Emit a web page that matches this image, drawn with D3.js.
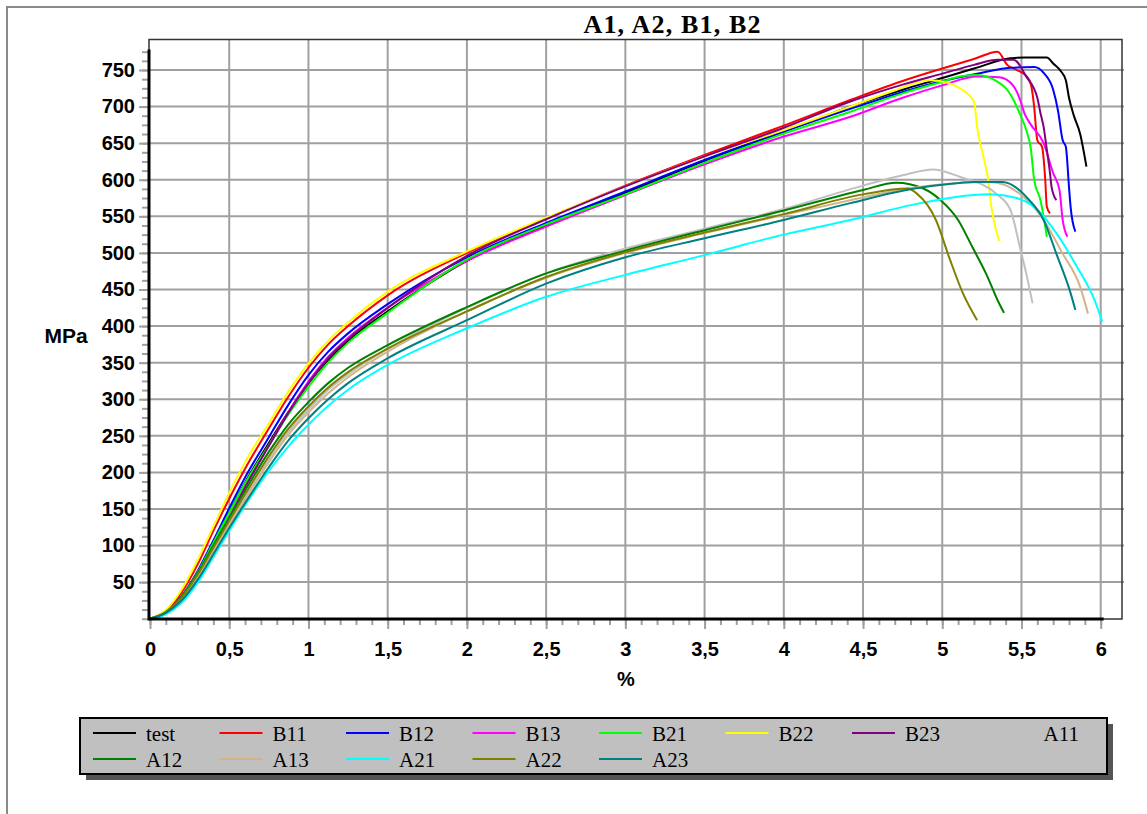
<!DOCTYPE html>
<html>
<head>
<meta charset="utf-8">
<script src="https://cdn.jsdelivr.net/npm/d3@7"></script>
<style>
  body { margin: 0; background: #fff; }
  svg { display: block; }
</style>
</head>
<body>
<div id="app"></div>
<script>
// strain (%) / stress (MPa)
const test = [[0, 0], [0.1, 9], [0.2, 30], [0.3, 63], [0.4, 104], [0.5, 146], [0.6, 186], [0.75, 240], [0.875, 283], [1, 322], [1.125, 354], [1.25, 380], [1.5, 420], [2, 489], [2.5, 538], [3, 582], [3.5, 626], [4, 666], [4.42, 700], [4.75, 723], [5, 739], [5.2, 752], [5.43, 766], [5.52, 767], [5.66, 767], [5.7, 759], [5.75, 748], [5.78, 736], [5.8, 712], [5.83, 688], [5.87, 663], [5.91, 618]];
const b11 = [[0, 0], [0.1, 11], [0.2, 36], [0.3, 74], [0.4, 120], [0.5, 164], [0.6, 205], [0.75, 260], [0.875, 304], [1, 343], [1.125, 375], [1.25, 400], [1.5, 442], [2, 500], [2.5, 547], [3, 592], [3.5, 634], [4, 674], [4.42, 709], [4.75, 735], [5, 752], [5.2, 765], [5.35, 775], [5.41, 757], [5.47, 750], [5.53, 742], [5.56, 730], [5.58, 700], [5.6, 654], [5.63, 645], [5.65, 600], [5.66, 563], [5.68, 554]];
const b12 = [[0, 0], [0.1, 9], [0.2, 31], [0.3, 65], [0.4, 107], [0.5, 151], [0.6, 193], [0.75, 248], [0.875, 293], [1, 333], [1.125, 365], [1.25, 390], [1.5, 430], [2, 494], [2.5, 541], [3, 584], [3.5, 627], [4, 666], [4.42, 697], [4.75, 720], [5, 735], [5.22, 745], [5.43, 753], [5.58, 754], [5.64, 746], [5.7, 723], [5.73, 695], [5.76, 654], [5.78, 645], [5.8, 590], [5.81, 563], [5.84, 529]];
const b13 = [[0, 0], [0.1, 7], [0.2, 25], [0.3, 55], [0.4, 95], [0.5, 139], [0.6, 181], [0.75, 237], [0.875, 283], [1, 324], [1.125, 358], [1.25, 384], [1.5, 425], [2, 489], [2.5, 536], [3, 579], [3.5, 621], [4, 659], [4.42, 686], [4.75, 712], [5, 729], [5.22, 741], [5.36, 740], [5.45, 728], [5.49, 710], [5.52, 690], [5.56, 675], [5.64, 650], [5.7, 609], [5.74, 586], [5.76, 545], [5.79, 522]];
const b21 = [[0, 0], [0.1, 9], [0.2, 30], [0.3, 63], [0.4, 104], [0.5, 145], [0.6, 185], [0.75, 237], [0.875, 280], [1, 317], [1.125, 350], [1.25, 377], [1.5, 418], [2, 491], [2.5, 539], [3, 580], [3.5, 623], [4, 663], [4.42, 693], [4.75, 718], [5, 734], [5.11, 741], [5.22, 743], [5.34, 735], [5.42, 720], [5.45, 709], [5.49, 690], [5.53, 668], [5.56, 641], [5.58, 600], [5.62, 572], [5.65, 536], [5.66, 522]];
const b22 = [[0, 0], [0.1, 12], [0.2, 40], [0.3, 80], [0.4, 126], [0.5, 172], [0.6, 214], [0.75, 267], [0.875, 311], [1, 349], [1.125, 380], [1.25, 405], [1.5, 447], [2, 502], [2.5, 548], [3, 591], [3.5, 632], [4, 668], [4.42, 700], [4.7, 722], [4.92, 736], [5.03, 733], [5.11, 725], [5.2, 707], [5.22, 672], [5.26, 631], [5.29, 600], [5.31, 563], [5.34, 531], [5.36, 516]];
const b23 = [[0, 0], [0.1, 7], [0.2, 23], [0.3, 52], [0.4, 92], [0.5, 136], [0.6, 179], [0.75, 236], [0.875, 282], [1, 322], [1.125, 356], [1.25, 382], [1.5, 425], [2, 496], [2.5, 546], [3, 591], [3.5, 632], [4, 671], [4.42, 707], [4.75, 730], [5, 745], [5.2, 757], [5.35, 764], [5.45, 764], [5.53, 741], [5.6, 712], [5.62, 691], [5.64, 672], [5.66, 641], [5.68, 609], [5.69, 590], [5.72, 572]];
const a11 = [[0, 0], [0.1, 8], [0.2, 27], [0.3, 57], [0.4, 94], [0.5, 131], [0.6, 166], [0.75, 218], [0.875, 256], [1, 286], [1.125, 313], [1.25, 334], [1.5, 369], [2, 425], [2.5, 472], [3, 506], [3.5, 533], [4, 560], [4.5, 592], [4.75, 606], [4.94, 614], [5.11, 604], [5.34, 581], [5.43, 559], [5.49, 508], [5.53, 472], [5.57, 431]];
const a12 = [[0, 0], [0.1, 9], [0.2, 30], [0.3, 62], [0.4, 100], [0.5, 138], [0.6, 175], [0.75, 228], [0.875, 266], [1, 296], [1.125, 322], [1.25, 343], [1.5, 374], [2, 426], [2.5, 472], [3, 503], [3.5, 531], [4, 558], [4.5, 586], [4.71, 596], [4.88, 588], [4.99, 572], [5.1, 545], [5.19, 508], [5.28, 470], [5.35, 435], [5.39, 418]];
const a13 = [[0, 0], [0.1, 8], [0.2, 26], [0.3, 55], [0.4, 91], [0.5, 128], [0.6, 163], [0.75, 214], [0.875, 252], [1, 282], [1.125, 308], [1.25, 330], [1.5, 365], [2, 420], [2.5, 466], [3, 500], [3.5, 527], [4, 552], [4.42, 572], [4.75, 587], [5, 594], [5.3, 597], [5.51, 577], [5.64, 545], [5.76, 499], [5.87, 454], [5.92, 417]];
const a21 = [[0, 0], [0.1, 6], [0.2, 22], [0.3, 49], [0.4, 84], [0.5, 120], [0.6, 155], [0.75, 202], [0.875, 236], [1, 265], [1.125, 291], [1.25, 313], [1.5, 347], [2, 397], [2.5, 440], [3, 470], [3.5, 497], [4, 525], [4.42, 545], [4.84, 567], [5.3, 580], [5.47, 575], [5.6, 559], [5.72, 527], [5.85, 481], [5.96, 436], [6.01, 406]];
const a22 = [[0, 0], [0.1, 9], [0.2, 29], [0.3, 60], [0.4, 97], [0.5, 134], [0.6, 170], [0.75, 222], [0.875, 260], [1, 290], [1.125, 316], [1.25, 337], [1.5, 369], [2, 420], [2.5, 467], [3, 501], [3.5, 528], [4, 553], [4.5, 580], [4.78, 588], [4.84, 581], [4.96, 545], [5.05, 490], [5.13, 445], [5.22, 408]];
const a23 = [[0, 0], [0.1, 8], [0.2, 25], [0.3, 53], [0.4, 88], [0.5, 124], [0.6, 158], [0.75, 207], [0.875, 244], [1, 274], [1.125, 300], [1.25, 322], [1.5, 356], [2, 408], [2.5, 458], [3, 494], [3.5, 520], [4, 545], [4.42, 568], [4.75, 585], [5, 593], [5.2, 597], [5.38, 597], [5.55, 572], [5.64, 545], [5.72, 499], [5.81, 445], [5.84, 422]];

const seriesNames = ['test', 'B11', 'B12', 'B13', 'B21', 'B22', 'B23', 'A11', 'A12', 'A13', 'A21', 'A22', 'A23'];
const seriesData = [test, b11, b12, b13, b21, b22, b23, a11, a12, a13, a21, a22, a23];
const seriesColors = ['#000000', '#ff0000', '#0000ff', '#ff00ff', '#00ff00', '#ffff00', '#800080', '#c0c0c0', '#008000', '#d2b48c', '#00ffff', '#808000', '#008080'];

const xMajorTicks = [0, 0.5, 1, 1.5, 2, 2.5, 3, 3.5, 4, 4.5, 5, 5.5, 6];
const yMajorTicks = [50, 100, 150, 200, 250, 300, 350, 400, 450, 500, 550, 600, 650, 700, 750];
const chartTitle = 'A1, A2, B1, B2';
const xTitle = '%';
const yTitle = 'MPa';

const width = 1147;
const height = 814;
const plot = { left: 149, top: 39.5, right: 1122, bottom: 619 };
const gridColor = '#a0a0a0';
const sansFont = '"Liberation Sans", Arial, sans-serif';
const serifFont = '"Liberation Serif", "Times New Roman", serif';

const svg = d3.select('#app')
  .append('svg')
  .attr('width', width)
  .attr('height', height);

svg.append('rect')
  .attr('width', width)
  .attr('height', height)
  .attr('fill', '#fff');

// outer frame
svg.append('path')
  .attr('d', `M7,${height + 2}V7H${width + 2}`)
  .attr('fill', 'none')
  .attr('stroke', '#8a8a8a')
  .attr('stroke-width', 2);

const xScale = d3.scaleLinear().domain([0, 6]).range([150, 1100.7]);
const yScale = d3.scaleLinear().domain([0, 750]).range([618.7, 70]);

// grid
svg.append('g')
  .selectAll('line')
  .data(yMajorTicks)
  .join('line')
  .attr('x1', plot.left)
  .attr('x2', plot.right + 2)
  .attr('y1', d => yScale(d))
  .attr('y2', d => yScale(d))
  .attr('stroke', gridColor)
  .attr('stroke-width', 2);

svg.append('g')
  .selectAll('line')
  .data(xMajorTicks.filter(d => d > 0))
  .join('line')
  .attr('x1', d => xScale(d))
  .attr('x2', d => xScale(d))
  .attr('y1', plot.top)
  .attr('y2', plot.bottom)
  .attr('stroke', gridColor)
  .attr('stroke-width', 2);

// plot frame
svg.append('rect')
  .attr('x', plot.left)
  .attr('y', plot.top)
  .attr('width', plot.right - plot.left)
  .attr('height', plot.bottom - plot.top)
  .attr('fill', 'none')
  .attr('stroke', '#333')
  .attr('stroke-width', 1.5);

// axes: minor ticks, major ticks with labels
const xMinor = svg.append('g')
  .attr('transform', `translate(0,${plot.bottom})`)
  .call(d3.axisBottom(xScale).tickValues(d3.range(0, 61).map(i => i / 10)).tickSize(6).tickFormat(''));
const xAxis = svg.append('g')
  .attr('transform', `translate(0,${plot.bottom})`)
  .call(d3.axisBottom(xScale)
    .tickValues(xMajorTicks)
    .tickSize(10)
    .tickPadding(13)
    .tickFormat(d => String(d).replace('.', ',')));

const yMinor = svg.append('g')
  .attr('transform', `translate(${plot.left},0)`)
  .call(d3.axisLeft(yScale).tickValues(d3.range(0, 63).map(i => i * 12.5)).tickSize(7).tickFormat(''));
const yAxis = svg.append('g')
  .attr('transform', `translate(${plot.left},0)`)
  .call(d3.axisLeft(yScale).tickValues(yMajorTicks).tickSize(10).tickPadding(4));

[xMinor, xAxis, yMinor, yAxis].forEach((g) => {
  g.select('.domain').remove();
  g.selectAll('.tick line').attr('stroke', gridColor).attr('stroke-width', 2);
  g.selectAll('.tick text')
    .attr('fill', '#000')
    .attr('font-family', sansFont)
    .attr('font-weight', 'bold')
    .attr('font-size', 20);
});

// curves
const line = d3.line()
  .x(d => xScale(d[0]))
  .y(d => yScale(d[1]))
  .curve(d3.curveMonotoneX);

svg.append('g')
  .selectAll('path')
  .data(seriesData)
  .join('path')
  .attr('d', line)
  .attr('fill', 'none')
  .attr('stroke', (d, i) => seriesColors[i])
  .attr('stroke-width', 2)
  .attr('stroke-linejoin', 'round');

// black axis lines
svg.append('line')
  .attr('x1', plot.left).attr('x2', plot.left)
  .attr('y1', yScale(778)).attr('y2', plot.bottom + 1.5)
  .attr('stroke', '#000')
  .attr('stroke-width', 3);
svg.append('line')
  .attr('x1', plot.left).attr('x2', xScale(6) + 3)
  .attr('y1', plot.bottom).attr('y2', plot.bottom)
  .attr('stroke', '#000')
  .attr('stroke-width', 3);

// titles
svg.append('text')
  .attr('x', 672)
  .attr('y', 33)
  .attr('text-anchor', 'middle')
  .attr('font-family', serifFont)
  .attr('font-weight', 'bold')
  .attr('font-size', 26)
  .attr('textLength', 177)
  .text(chartTitle);

svg.append('text')
  .attr('x', 626)
  .attr('y', 686)
  .attr('text-anchor', 'middle')
  .attr('font-family', sansFont)
  .attr('font-weight', 'bold')
  .attr('font-size', 20)
  .text(xTitle);

svg.append('text')
  .attr('x', 66)
  .attr('y', 343)
  .attr('text-anchor', 'middle')
  .attr('font-family', sansFont)
  .attr('font-weight', 'bold')
  .attr('font-size', 21)
  .text(yTitle);

// legend
const legend = { x: 80, y: 718, w: 1027, h: 56 };
svg.append('rect')
  .attr('x', legend.x + 6)
  .attr('y', legend.y + 6)
  .attr('width', legend.w)
  .attr('height', legend.h)
  .attr('fill', '#555');
svg.append('rect')
  .attr('x', legend.x)
  .attr('y', legend.y)
  .attr('width', legend.w)
  .attr('height', legend.h)
  .attr('fill', '#c0c0c0')
  .attr('stroke', '#000')
  .attr('stroke-width', 2);

const perRow = 8;
const legendItems = svg.append('g')
  .selectAll('g')
  .data(seriesNames)
  .join('g')
  .attr('transform', (d, i) => {
    const col = i % perRow;
    const row = Math.floor(i / perRow);
    const shift = col === perRow - 1 ? 12 : 0;
    return `translate(${93 + col * 126.5 + shift},${733 + row * 26})`;
  });

legendItems.append('line')
  .attr('x1', 0)
  .attr('x2', 43)
  .attr('stroke', (d, i) => seriesColors[i])
  .attr('stroke-width', 2);

legendItems.append('text')
  .attr('x', 53)
  .attr('y', 8)
  .attr('font-family', serifFont)
  .attr('font-size', 21)
  .attr('fill', '#000')
  .text(d => d);
</script>
</body>
</html>
